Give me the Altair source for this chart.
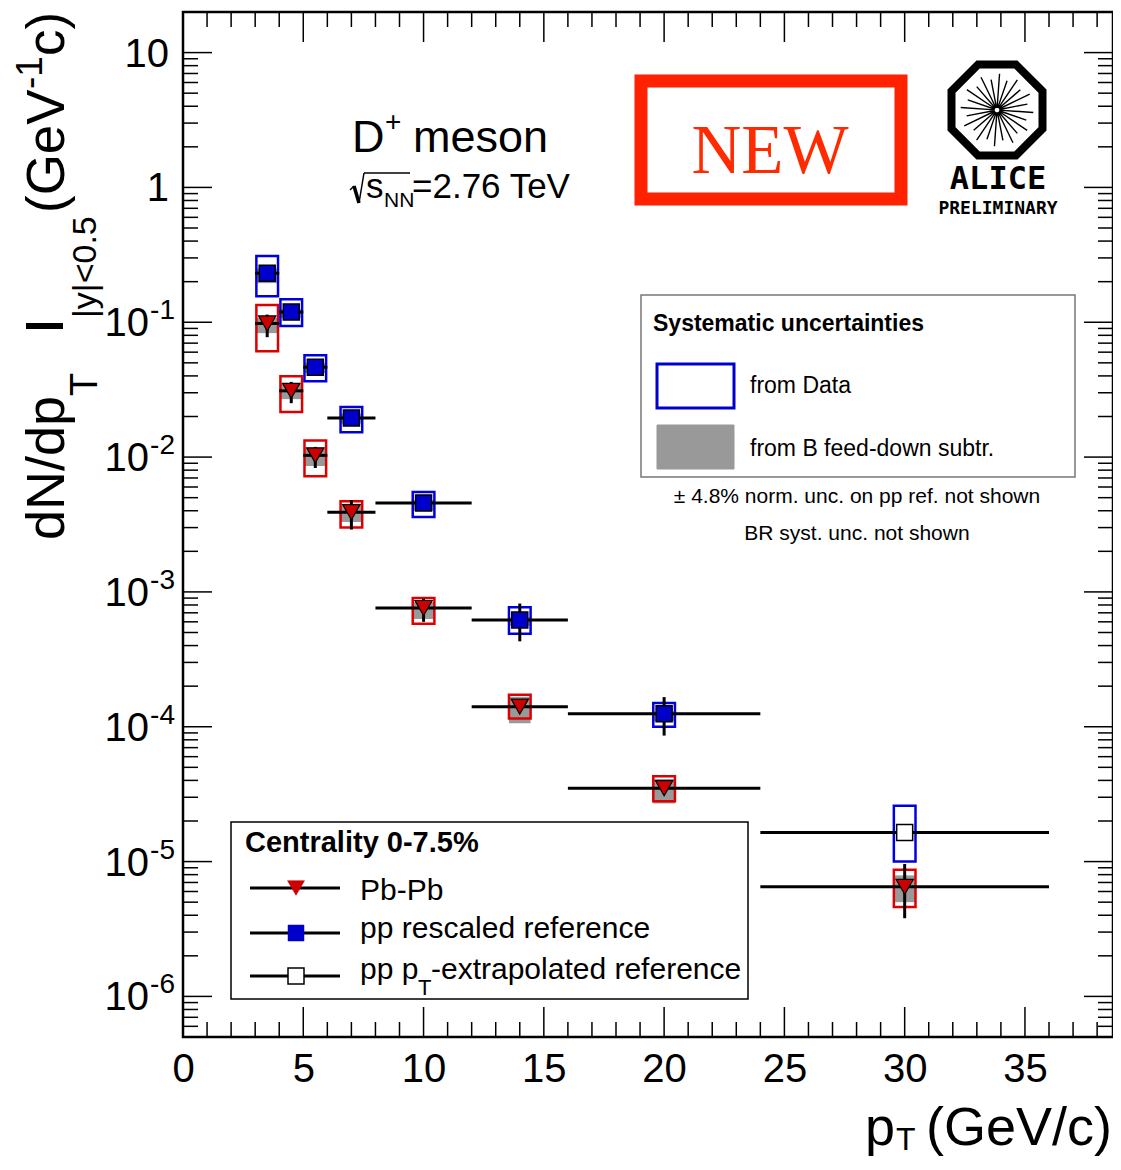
import math
import altair as alt
import pandas as pd

# ---------------- data ----------------
PT = [3.5, 4.5, 5.5, 7.0, 10.0, 14.0, 20.0, 30.0]
PT_LO = [3, 4, 5, 6, 8, 12, 16, 24]
PT_HI = [4, 5, 6, 8, 12, 16, 24, 36]

PB_Y = [0.098, 0.031, 0.0103, 0.0039, 7.6e-4, 1.41e-4, 3.5e-5, 6.5e-6]
PB_STAT_LO = [0.0775, 0.0251, 0.0083, 0.0029, 6.0e-4, 1.3e-4, 3.2e-5, 3.8e-6]
PB_STAT_HI = [0.114, 0.0361, 0.0119, 0.0048, 8.9e-4, 1.53e-4, 3.8e-5, 9.6e-6]
PB_SYS_LO = [0.061, 0.0216, 0.0072, 0.0030, 5.8e-4, 1.15e-4, 2.8e-5, 4.6e-6]
PB_SYS_HI = [0.134, 0.0398, 0.0133, 0.0047, 9.0e-4, 1.73e-4, 4.3e-5, 8.7e-6]
PB_FD_LO = [0.083, 0.0269, 0.0086, 0.0033, 6.3e-4, 1.06e-4, 2.7e-5, 5.0e-6]
PB_FD_HI = [0.108, 0.0353, 0.0117, 0.0045, 8.4e-4, 1.67e-4, 4.1e-5, 7.9e-6]

PP_PT = [3.5, 4.5, 5.5, 7.0, 10.0, 14.0, 20.0]
PP_PT_LO = [3, 4, 5, 6, 8, 12, 16]
PP_PT_HI = [4, 5, 6, 8, 12, 16, 24]
PP_Y = [0.231, 0.119, 0.0464, 0.0195, 4.56e-3, 6.2e-4, 1.25e-4]
PP_STAT_LO = [0.215, 0.112, 0.044, 0.0185, 4.3e-3, 4.3e-4, 8.6e-5]
PP_STAT_HI = [0.245, 0.126, 0.049, 0.0205, 4.8e-3, 8.2e-4, 1.66e-4]
PP_SYS_LO = [0.156, 0.094, 0.0365, 0.0153, 3.6e-3, 4.9e-4, 1.0e-4]
PP_SYS_HI = [0.31, 0.148, 0.057, 0.0235, 5.5e-3, 7.7e-4, 1.5e-4]
PP_FD_LO = [0.195, 0.108, 0.042, 0.0177, 4.0e-3, 5.6e-4, 1.1e-4]
PP_FD_HI = [0.25, 0.125, 0.05, 0.021, 4.8e-3, 6.5e-4, 1.3e-4]

EX_PT = [30.0]
EX_PT_LO = [24]
EX_PT_HI = [36]
EX_Y = [1.64e-5]
EX_SYS_LO = [1.0e-5]
EX_SYS_HI = [2.6e-5]

X_LABELS = [0, 5, 10, 15, 20, 25, 30, 35]
Y_LABEL_VALUES = [10, 1, 0.1, 1e-2, 1e-3, 1e-4, 1e-5, 1e-6]
Y_LABEL_MAIN = ["10", "1", "10", "10", "10", "10", "10", "10"]
Y_LABEL_EXP = ["", "", "-1", "-2", "-3", "-4", "-5", "-6"]

# ---------------- layout / style ----------------
W, H = 930, 1025
X0, Y0 = 183, 12          # page position of the plot frame
FONT = "Liberation Sans"
RED, BLUE, GRAY = "#cc0000", "#0000cc", "#999999"
BOX_HALF = 0.45

X_DOM = [0, 38.66]
Y_DOM = [5e-7, 20]
xscale = alt.Scale(domain=X_DOM, nice=False, zero=False)
yscale = alt.Scale(type="log", domain=Y_DOM, nice=False)
xaxis = alt.Axis(values=X_LABELS, title=None, ticks=False, domain=False, grid=False,
                 labelFontSize=40, labelFont=FONT, labelColor="black",
                 labelPadding=12, labelFlush=False, labelOverlap=False, format="d")


def X(f):
    return alt.X(f, scale=xscale, axis=xaxis)


def Y(f):
    return alt.Y(f, scale=yscale, axis=None)


ONE = pd.DataFrame({"k": [0]})


def ptext(s, px, py, size, align="left", weight="normal", font=FONT, color="black",
          angle=None, opacity=1.0):
    kw = dict(text=s, fontSize=size, align=align, baseline="alphabetic", font=font,
              fontWeight=weight, color=color, opacity=opacity)
    if angle is not None:
        kw["angle"] = angle
    return alt.Chart(ONE).mark_text(**kw).encode(x=alt.value(px - X0), y=alt.value(py - Y0))


def prule(x1, y1, x2, y2, sw=1.5, color="black"):
    return alt.Chart(ONE).mark_rule(strokeWidth=sw, color=color).encode(
        x=alt.value(x1 - X0), y=alt.value(y1 - Y0), x2=alt.value(x2 - X0), y2=alt.value(y2 - Y0))


def prect(x1, y1, x2, y2, fill="transparent", stroke="black", sw=1.5):
    return alt.Chart(ONE).mark_rect(fill=fill, stroke=stroke, strokeWidth=sw).encode(
        x=alt.value(x1 - X0), y=alt.value(y1 - Y0), x2=alt.value(x2 - X0), y2=alt.value(y2 - Y0))


def ppoint(px, py, shape, size, fill, stroke="black", sw=1.2):
    return alt.Chart(ONE).mark_point(shape=shape, size=size, filled=True, color=fill,
                                     stroke=stroke, strokeWidth=sw, opacity=1).encode(
        x=alt.value(px - X0), y=alt.value(py - Y0))


layers = []

# ---------------- frame ticks (ROOT style, inside) ----------------
xmaj = pd.DataFrame({"v": [v for v in range(0, 39) if v % 5 == 0]})
xmin = pd.DataFrame({"v": [v for v in range(0, 39) if v % 5 != 0]})
for df, ln in ((xmaj, 30), (xmin, 15)):
    layers.append(alt.Chart(df).mark_rule(strokeWidth=1.5, color="black").encode(
        x=X("v:Q"), y=alt.value(H), y2=alt.value(H - ln)))
    layers.append(alt.Chart(df).mark_rule(strokeWidth=1.5, color="black").encode(
        x=X("v:Q"), y=alt.value(0), y2=alt.value(ln)))

ymaj_vals = [10.0 ** d for d in range(-6, 2)]
ymin_vals = [k * 10.0 ** d for d in range(-7, 2) for k in range(2, 10)
             if Y_DOM[0] <= k * 10.0 ** d < Y_DOM[1]]
for vals, ln in ((ymaj_vals, 29), (ymin_vals, 15)):
    df = pd.DataFrame({"v": vals})
    layers.append(alt.Chart(df).mark_rule(strokeWidth=1.5, color="black").encode(
        y=Y("v:Q"), x=alt.value(0), x2=alt.value(ln)))
    layers.append(alt.Chart(df).mark_rule(strokeWidth=1.5, color="black").encode(
        y=Y("v:Q"), x=alt.value(W), x2=alt.value(W - ln)))

# ---------------- y tick labels with superscripts ----------------
ylab = pd.DataFrame({"v": Y_LABEL_VALUES, "m": Y_LABEL_MAIN, "e": Y_LABEL_EXP})
layers.append(alt.Chart(ylab).transform_filter("datum.e == ''").mark_text(
    align="right", baseline="alphabetic", fontSize=40, font=FONT, dy=14, color="black").encode(
    y=Y("v:Q"), x=alt.value(-14), text="m:N"))
layers.append(alt.Chart(ylab).transform_filter("datum.e != ''").mark_text(
    align="right", baseline="alphabetic", fontSize=40, font=FONT, dy=14, color="black").encode(
    y=Y("v:Q"), x=alt.value(-34), text="m:N"))
layers.append(alt.Chart(ylab).transform_filter("datum.e != ''").mark_text(
    align="right", baseline="alphabetic", fontSize=28, font=FONT, dy=-3, color="black").encode(
    y=Y("v:Q"), x=alt.value(-8), text="e:N"))

# ---------------- data layers ----------------
pb = pd.DataFrame({"pt": PT, "lo": PT_LO, "hi": PT_HI, "y": PB_Y,
                   "slo": PB_STAT_LO, "shi": PB_STAT_HI, "ylo": PB_SYS_LO, "yhi": PB_SYS_HI,
                   "flo": PB_FD_LO, "fhi": PB_FD_HI})
pp = pd.DataFrame({"pt": PP_PT, "lo": PP_PT_LO, "hi": PP_PT_HI, "y": PP_Y,
                   "slo": PP_STAT_LO, "shi": PP_STAT_HI, "ylo": PP_SYS_LO, "yhi": PP_SYS_HI,
                   "flo": PP_FD_LO, "fhi": PP_FD_HI})
ex = pd.DataFrame({"pt": EX_PT, "lo": EX_PT_LO, "hi": EX_PT_HI, "y": EX_Y,
                   "ylo": EX_SYS_LO, "yhi": EX_SYS_HI})

calc = dict(b0=f"datum.pt - {BOX_HALF}", b1=f"datum.pt + {BOX_HALF}")

for df in (pb, pp):
    layers.append(alt.Chart(df).transform_calculate(**calc).mark_rect(fill=GRAY).encode(
        x=X("b0:Q"), x2=alt.X2("b1:Q"), y=Y("flo:Q"), y2=alt.Y2("fhi:Q")))

for df, col in ((pb, "#dd0000"), (pp, "#0000dd"), (ex, "#0000dd")):
    layers.append(alt.Chart(df).transform_calculate(**calc).mark_rect(
        fill="transparent", stroke=col, strokeWidth=2.5).encode(
        x=X("b0:Q"), x2=alt.X2("b1:Q"), y=Y("ylo:Q"), y2=alt.Y2("yhi:Q")))

for df in (pb, pp, ex):
    layers.append(alt.Chart(df).mark_rule(strokeWidth=3, color="black").encode(
        x=X("lo:Q"), x2=alt.X2("hi:Q"), y=Y("y:Q")))

for df in (pb, pp):
    layers.append(alt.Chart(df).mark_rule(strokeWidth=3, color="black").encode(
        x=X("pt:Q"), y=Y("slo:Q"), y2=alt.Y2("shi:Q")))

layers.append(alt.Chart(pb).mark_point(shape="triangle-down", size=300, filled=True, color=RED,
                                       stroke="black", strokeWidth=1.2, opacity=1).encode(
    x=X("pt:Q"), y=Y("y:Q")))
layers.append(alt.Chart(pp).mark_point(shape="square", size=256, filled=True, color=BLUE,
                                       stroke="black", strokeWidth=1.5, opacity=1).encode(
    x=X("pt:Q"), y=Y("y:Q")))
layers.append(alt.Chart(ex).mark_point(shape="square", size=256, filled=True, color="white",
                                       stroke="black", strokeWidth=1.5, opacity=1).encode(
    x=X("pt:Q"), y=Y("y:Q")))

# ---------------- axis titles ----------------
# y title, rotated, built from pieces (sub/superscripts)
layers += [
    ptext("dN/dp", 64, 540, 54, angle=270),
    ptext("T", 97, 396, 38, angle=270),
    prule(26, 326, 63, 326, sw=6),
    ptext("|y|<0.5", 96, 318, 34, angle=270),
    ptext("(GeV", 64, 213, 53, angle=270),
    ptext("-1", 42, 89, 37, angle=270),
    ptext("c)", 64, 56, 53, angle=270),
]
# x title
layers += [
    ptext("p", 865, 1145, 54),
    ptext("T", 896, 1150, 32),
    ptext("(GeV/c)", 1112, 1145, 54, align="right"),
]

# ---------------- annotations ----------------
layers += [
    ptext("D", 352, 152, 45),
    ptext("+", 385, 131, 28),
    ptext("meson", 413, 152, 45),
    prule(350, 190, 354, 186, sw=1.5),
    prule(354, 186, 359, 203, sw=3.5),
    prule(359, 203, 364, 173, sw=1.5),
    prule(364, 173, 410, 173, sw=1.5),
    ptext("s", 366, 198, 35),
    ptext("NN", 384, 207, 21),
    ptext("=2.76 TeV", 412, 198, 35),
]

# NEW stamp
layers += [
    prect(641, 81, 901, 199, stroke="#ff2200", sw=13),
    ptext("NEW", 770, 173, 69, align="center", font="Liberation Serif", color="#ff2a00"),
]

# ALICE logo
OCT = "M0.4142,-1L1,-0.4142L1,0.4142L0.4142,1L-0.4142,1L-1,0.4142L-1,-0.4142L-0.4142,-1Z"
rays = []
for k in range(24):
    a = math.radians(k * 15 + 4)
    r1 = 0.80 if k % 2 == 0 else 0.68
    rays.append("M%.3f,%.3fL%.3f,%.3f" % (0.05 * math.cos(a), 0.05 * math.sin(a),
                                          r1 * math.cos(a), r1 * math.sin(a)))
RAYS = "".join(rays)
layers += [
    alt.Chart(ONE).mark_point(shape=OCT, size=8281, filled=False, color="black",
                              strokeWidth=8, opacity=1).encode(
        x=alt.value(997 - X0), y=alt.value(110 - Y0)),
    alt.Chart(ONE).mark_point(shape=RAYS, size=8281, filled=False, color="black",
                              strokeWidth=1.4, opacity=1).encode(
        x=alt.value(997 - X0), y=alt.value(110 - Y0)),
    ptext("ALICE", 998, 189, 32, align="center", weight="bold", font="DejaVu Sans Mono"),
    ptext("PRELIMINARY", 998, 214, 18, align="center", weight="bold", font="DejaVu Sans Mono"),
]

# Systematic uncertainties box
layers += [
    prect(641, 295, 1075, 477, fill="white", stroke="#777777", sw=1.5),
    ptext("Systematic uncertainties", 653, 331, 23, weight="bold"),
    prect(657, 364, 734, 408, fill="white", stroke=BLUE, sw=3),
    ptext("from Data", 750, 393, 23),
    prect(657, 425, 734, 469, fill=GRAY, stroke=GRAY, sw=1),
    ptext("from B feed-down subtr.", 750, 456, 23),
    ptext("\u00b1 4.8% norm. unc. on pp ref. not shown", 857, 503, 21, align="center"),
    ptext("BR syst. unc. not shown", 857, 540, 21, align="center"),
]

# Centrality legend
layers += [
    prect(231, 822, 748, 999, fill="white", stroke="black", sw=1.5),
    ptext("Centrality 0-7.5%", 245, 852, 29, weight="bold"),
    prule(250, 888, 340, 888, sw=3),
    prule(250, 933, 340, 933, sw=3),
    prule(250, 976, 340, 976, sw=3),
    ppoint(296, 888, "triangle-down", 289, RED, stroke=RED, sw=0.5),
    ppoint(296, 933, "square", 256, BLUE, stroke=BLUE, sw=0.5),
    ppoint(296, 976, "square", 256, "white", stroke="black", sw=1.5),
    ptext("Pb-Pb", 360, 900, 30),
    ptext("pp rescaled reference", 360, 938, 30),
    ptext("pp p", 360, 979, 30),
    ptext("T", 418, 995, 22),
    ptext("-extrapolated reference", 431, 979, 30),
]

chart = alt.layer(*layers).properties(
    width=W, height=H,
    padding={"left": 175, "top": 4, "right": 0, "bottom": 121},
    autosize=alt.AutoSizeParams(type="none"),
).configure_view(stroke="black", strokeWidth=2.5)

chart.save("out.html", embed_options={"renderer": "svg", "actions": False})
